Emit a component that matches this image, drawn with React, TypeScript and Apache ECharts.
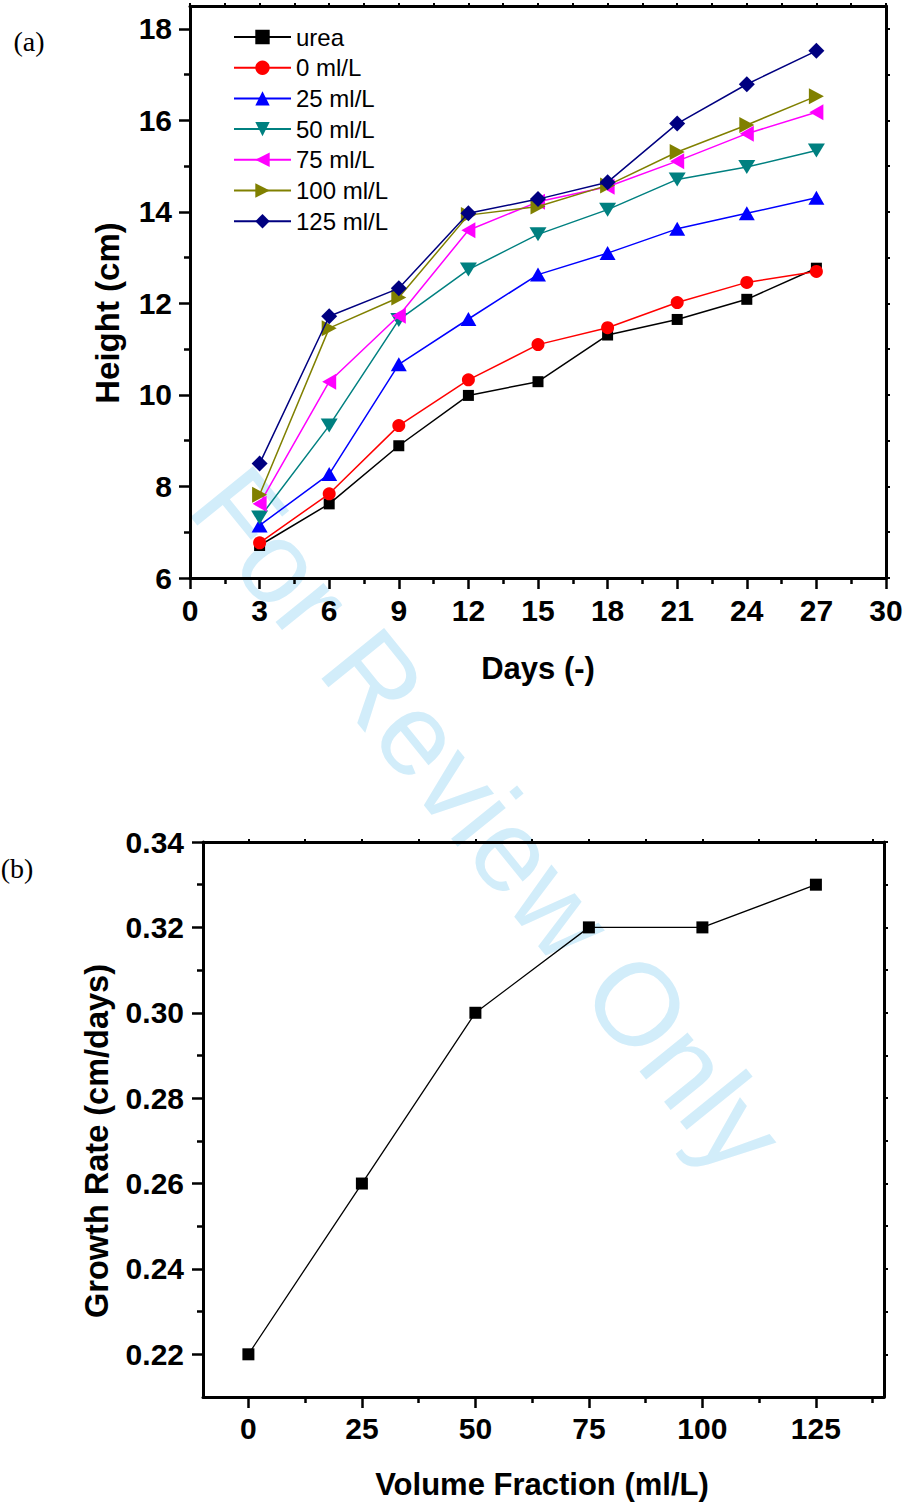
import React, { useEffect, useRef } from "react";
import * as echarts from "echarts";

// ---------- data ----------
const days = [3, 6, 9, 12, 15, 18, 21, 24, 27];
const seriesNames = ["urea", "0 ml/L", "25 ml/L", "50 ml/L", "75 ml/L", "100 ml/L", "125 ml/L"];
const urea = [6.71, 7.62, 8.89, 9.99, 10.29, 11.31, 11.65, 12.09, 12.77];
const ml0 = [6.77, 7.84, 9.33, 10.33, 11.10, 11.47, 12.02, 12.46, 12.70];
const ml25 = [7.15, 8.27, 10.67, 11.66, 12.63, 13.10, 13.63, 13.97, 14.31];
const ml50 = [7.32, 9.33, 11.64, 12.74, 13.51, 14.05, 14.71, 14.98, 15.34];
const ml75 = [7.62, 10.29, 11.73, 13.60, 14.22, 14.55, 15.11, 15.71, 16.18];
const ml100 = [7.82, 11.46, 12.13, 13.93, 14.12, 14.58, 15.31, 15.90, 16.53];
const ml125 = [8.50, 11.72, 12.33, 13.97, 14.28, 14.65, 15.93, 16.79, 17.52];
const heightValues = [urea, ml0, ml25, ml50, ml75, ml100, ml125];

const fractions = [0, 25, 50, 75, 100, 125];
const growthRates = [0.22, 0.26, 0.30, 0.32, 0.32, 0.33];

// tick values
const dayMajor = [0, 3, 6, 9, 12, 15, 18, 21, 24, 27, 30];
const dayMinor = [1.5, 4.5, 7.5, 10.5, 13.5, 16.5, 19.5, 22.5, 25.5, 28.5];
const dayAll = [0, 1.5, 3, 4.5, 6, 7.5, 9, 10.5, 12, 13.5, 15, 16.5, 18, 19.5, 21, 22.5, 24, 25.5, 27, 28.5, 30];
const heightMajor = [6, 8, 10, 12, 14, 16, 18];
const heightMinor = [7, 9, 11, 13, 15, 17];
const heightAll = [6, 7, 8, 9, 10, 11, 12, 13, 14, 15, 16, 17, 18];
const fracMajor = [0, 25, 50, 75, 100, 125];
const fracMinor = [12.5, 37.5, 62.5, 87.5, 112.5, 137.5];
const fracAll = [0, 12.5, 25, 37.5, 50, 62.5, 75, 87.5, 100, 112.5, 125, 137.5];
const rateMajor = [0.22, 0.24, 0.26, 0.28, 0.30, 0.32, 0.34];
const rateMinor = [0.23, 0.25, 0.27, 0.29, 0.31, 0.33];
const rateAll = [0.22, 0.23, 0.24, 0.25, 0.26, 0.27, 0.28, 0.29, 0.30, 0.31, 0.32, 0.33, 0.34];

// ---------- styles ----------
const colors = ["#000000", "#ff0000", "#0000ff", "#008080", "#ff00ff", "#808000", "#000080"];
const symbols = ["rect", "circle", "triangle", "triangle", "triangle", "triangle", "diamond"];
const symbolRotates = [0, 0, 0, 180, 90, -90, 0];
const symbolSizes: any[] = [11, 13, [16, 14], [17, 14], [16, 14], [16, 15], 16];

const SANS = "'Liberation Sans', Arial, sans-serif";
const SERIF = "'Liberation Serif', 'Times New Roman', serif";
const black = "#000";

const labelStyle = {
  fontFamily: SANS,
  fontWeight: "bold",
  fontSize: 30,
  color: black,
};

function axisBase(extra: any) {
  return {
    axisLine: { show: true, onZero: false, lineStyle: { color: black, width: 3 } },
    splitLine: { show: false },
    ...extra,
  };
}

export default function App() {
  const ref = useRef<HTMLDivElement>(null);

  useEffect(() => {
    if (!ref.current) return;
    const chart = echarts.init(ref.current, null, { renderer: "svg" });

    const xAxes: any[] = [
      axisBase({
        type: "value", gridIndex: 0, position: "bottom", min: 0, max: 30, interval: 3,
        axisTick: { show: true, inside: false, length: 11, customValues: dayMajor, lineStyle: { color: black, width: 2.5 } },
        axisLabel: { show: true, margin: 17, customValues: dayMajor, ...labelStyle },
      }),
      {
        type: "value", gridIndex: 0, position: "bottom", min: 0, max: 30, interval: 3,
        axisLine: { show: false, onZero: false }, splitLine: { show: false },
        axisTick: { show: true, inside: false, length: 6, customValues: dayMinor, lineStyle: { color: black, width: 2.5 } },
        axisLabel: { show: false },
      },
      axisBase({
        type: "value", gridIndex: 0, position: "top", min: 0, max: 30, interval: 3,
        axisTick: { show: true, inside: false, length: 3, customValues: dayAll, lineStyle: { color: black, width: 2 } },
        axisLabel: { show: false },
      }),
      axisBase({
        type: "value", gridIndex: 1, position: "bottom", min: -10, max: 140,
        axisTick: { show: true, inside: false, length: 11, customValues: fracMajor, lineStyle: { color: black, width: 2.5 } },
        axisLabel: { show: true, margin: 16, customValues: fracMajor, ...labelStyle },
      }),
      {
        type: "value", gridIndex: 1, position: "bottom", min: -10, max: 140,
        axisLine: { show: false, onZero: false }, splitLine: { show: false },
        axisTick: { show: true, inside: false, length: 6, customValues: fracMinor, lineStyle: { color: black, width: 2.5 } },
        axisLabel: { show: false },
      },
      axisBase({
        type: "value", gridIndex: 1, position: "top", min: -10, max: 140,
        axisTick: { show: true, inside: false, length: 3, customValues: fracAll, lineStyle: { color: black, width: 2 } },
        axisLabel: { show: false },
      }),
    ];

    const yAxes: any[] = [
      axisBase({
        type: "value", gridIndex: 0, position: "left", min: 6, max: 18.5,
        axisTick: { show: true, inside: false, length: 11, customValues: heightMajor, lineStyle: { color: black, width: 2.5 } },
        axisLabel: { show: true, margin: 18, customValues: heightMajor, ...labelStyle },
      }),
      {
        type: "value", gridIndex: 0, position: "left", min: 6, max: 18.5,
        axisLine: { show: false, onZero: false }, splitLine: { show: false },
        axisTick: { show: true, inside: false, length: 6, customValues: heightMinor, lineStyle: { color: black, width: 2.5 } },
        axisLabel: { show: false },
      },
      axisBase({
        type: "value", gridIndex: 0, position: "right", min: 6, max: 18.5,
        axisTick: { show: true, inside: false, length: 4, customValues: heightAll, lineStyle: { color: black, width: 2 } },
        axisLabel: { show: false },
      }),
      axisBase({
        type: "value", gridIndex: 1, position: "left", min: 0.21, max: 0.34,
        axisTick: { show: true, inside: false, length: 11, customValues: rateMajor, lineStyle: { color: black, width: 2.5 } },
        axisLabel: {
          show: true, margin: 19, customValues: rateMajor,
          formatter: (v: number) => v.toFixed(2), ...labelStyle,
        },
      }),
      {
        type: "value", gridIndex: 1, position: "left", min: 0.21, max: 0.34,
        axisLine: { show: false, onZero: false }, splitLine: { show: false },
        axisTick: { show: true, inside: false, length: 6, customValues: rateMinor, lineStyle: { color: black, width: 2.5 } },
        axisLabel: { show: false },
      },
      axisBase({
        type: "value", gridIndex: 1, position: "right", min: 0.21, max: 0.34,
        axisTick: { show: true, inside: false, length: 4, customValues: rateAll, lineStyle: { color: black, width: 2 } },
        axisLabel: { show: false },
      }),
    ];

    const heightSeries = seriesNames.map((name, i) => ({
      name,
      type: "line",
      xAxisIndex: 0,
      yAxisIndex: 0,
      data: days.map((d, j) => [d, heightValues[i][j]]),
      symbol: symbols[i],
      symbolSize: symbolSizes[i],
      symbolRotate: symbolRotates[i],
      showAllSymbol: true,
      lineStyle: { color: colors[i], width: 1.5 },
      itemStyle: { color: colors[i], borderWidth: 0 },
      emphasis: { disabled: true },
      z: 2 + i,
    }));

    const rateSeries = {
      name: "growth",
      type: "line",
      xAxisIndex: 3,
      yAxisIndex: 3,
      data: fractions.map((f, j) => [f, growthRates[j]]),
      symbol: "rect",
      symbolSize: 12,
      lineStyle: { color: black, width: 1.3 },
      itemStyle: { color: black },
      emphasis: { disabled: true },
    };

    const textEl = (text: string, x: number, y: number, font: string, rotation = 0, fill = black, z = 10) => ({
      type: "text",
      x,
      y,
      rotation,
      z,
      style: {
        text,
        font,
        fill,
        textAlign: "center",
        textVerticalAlign: "middle",
        align: "center",
        verticalAlign: "middle",
      },
    });

    chart.setOption({
      animation: false,
      backgroundColor: "#ffffff",
      grid: [
        { left: 190, top: 6, width: 696, height: 572, containLabel: false },
        { left: 203, top: 842, width: 681, height: 555, containLabel: false },
      ],
      xAxis: xAxes,
      yAxis: yAxes,
      legend: {
        show: true,
        orient: "vertical",
        left: 233,
        top: 25,
        padding: 0,
        itemWidth: 57,
        itemHeight: 18,
        itemGap: 6.7,
        selectedMode: false,
        data: seriesNames,
        textStyle: { fontFamily: SANS, fontSize: 24, color: black },
      },
      graphic: {
        elements: [
          {
            type: "text",
            x: 488,
            y: 820,
            rotation: -0.89,
            z: -1,
            silent: true,
            style: {
              text: "For Review Only",
              font: `117px ${SANS}`,
              fill: "#d2edfa",
              textAlign: "center",
              textVerticalAlign: "middle",
              align: "center",
              verticalAlign: "middle",
            },
          },
          textEl("(a)", 29, 41, `28px ${SERIF}`),
          textEl("(b)", 17, 868, `28px ${SERIF}`),
          textEl("Height (cm)", 107, 313, `bold 33px ${SANS}`, Math.PI / 2),
          textEl("Days (-)", 538, 668, `bold 31px ${SANS}`),
          textEl("Growth Rate (cm/days)", 97, 1141, `bold 32.5px ${SANS}`, Math.PI / 2),
          textEl("Volume Fraction (ml/L)", 542, 1484, `bold 31px ${SANS}`),
        ],
      },
      series: [...heightSeries, rateSeries],
    });

    return () => {
      chart.dispose();
    };
  }, []);

  return (
    <div
      ref={ref}
      style={{ position: "absolute", left: 0, top: 0, width: 907, height: 1502, background: "#fff" }}
    />
  );
}
